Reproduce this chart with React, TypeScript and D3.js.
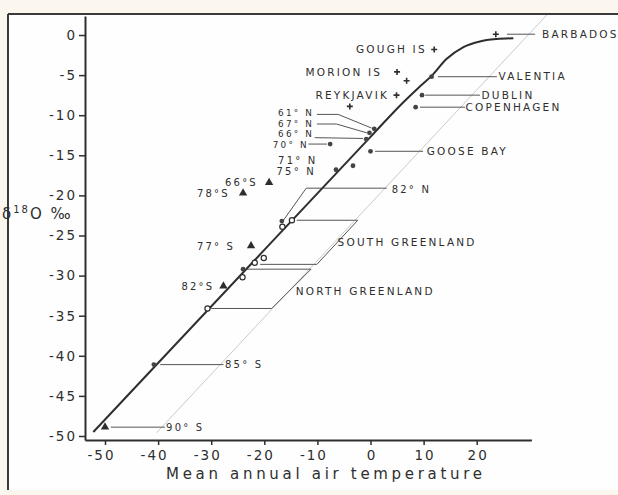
import React, { useEffect, useRef } from 'react';
import * as d3 from 'd3';

// ---------- data ----------
const xTicks = [-50, -40, -30, -20, -10, 0, 10, 20];
const yTicks = [0, -5, -10, -15, -20, -25, -30, -35, -40, -45, -50];

// main curve (mean annual air temperature °C, δ18O ‰)
const curveT = [-52.2, -20, 0, 6, 9, 11.5, 14.3, 17.5, 20.6, 23.8, 26.9];
const curveD = [-49.5, -26.8, -12.7, -8.5, -6.6, -5.1, -3.0, -1.5, -0.8, -0.5, -0.4];
// thin parallel reference line
const refT = [-40.3, 33.2];
const refD = [-49.6, 2.5];

// island / ocean stations (+)
const crossT = [23.6, 12.0, 5.0, 6.8, 4.9, -3.9];
const crossD = [0.1, -1.8, -4.6, -5.7, -7.5, -8.9];
// continental stations (filled dots)
const dotT = [11.5, 9.7, 8.5, 0.0, 0.7, -0.2, -0.8, -7.6, -3.3, -6.5, -16.7, -24.0, -40.8];
const dotD = [-5.2, -7.5, -9.0, -14.5, -11.7, -12.2, -13.0, -13.6, -16.3, -16.8, -23.2, -29.2, -41.1];
// Greenland ice sheet (open circles)
const ringT = [-14.8, -16.6, -20.1, -21.8, -24.1, -30.7];
const ringD = [-23.1, -23.9, -27.8, -28.4, -30.2, -34.1];
// Antarctica (triangles)
const triT = [-19.1, -24.0, -22.5, -27.7, -50.0];
const triD = [-18.4, -19.7, -26.3, -31.3, -48.9];

const labelTexts = [
  'BARBADOS', 'GOUGH IS', 'MORION IS', 'REYKJAVIK', 'VALENTIA', 'DUBLIN', 'COPENHAGEN',
  'GOOSE BAY', '61° N', '67° N', '66° N', '70° N', '71° N', '75° N', '82° N', '66°S', '78°S',
  '77° S', '82°S', 'SOUTH GREENLAND', 'NORTH GREENLAND', '85° S', '90° S',
];

// ---------- layout (label anchors and leader lines, in data units) ----------
const labelPos: [number, number, string][] = [
  [32.3, 0.1, 'start'], [10.6, -1.8, 'end'], [2.2, -4.6, 'end'], [3.5, -7.5, 'end'],
  [24.1, -5.2, 'start'], [20.9, -7.5, 'start'], [17.9, -9.0, 'start'], [10.6, -14.5, 'start'],
  [-17.4, -9.75, 'start'], [-17.4, -11.05, 'start'], [-17.4, -12.35, 'start'], [-18.4, -13.65, 'start'],
  [-17.4, -15.6, 'start'], [-17.7, -17.0, 'start'], [4.0, -19.2, 'start'], [-27.4, -18.4, 'start'],
  [-32.7, -19.7, 'start'], [-32.7, -26.3, 'start'], [-35.6, -31.3, 'start'], [-6.2, -25.9, 'start'],
  [-14.1, -31.9, 'start'], [-27.4, -41.1, 'start'], [-38.5, -48.9, 'start'],
];
const labelSize = [10.5, 10.5, 10.5, 10.5, 10.5, 10.5, 10.5, 10.5, 8.8, 8.8, 8.8, 8.8, 10, 10, 10, 10, 10, 10, 10, 10.5, 10.5, 10, 10];
const leaders: [number, number][][] = [
  [[25.7, 0.1], [31.0, 0.1]],
  [[12.7, -5.2], [23.8, -5.2]],
  [[10.3, -7.5], [20.6, -7.5]],
  [[9.3, -9.0], [17.8, -9.0]],
  [[0.85, -14.5], [9.9, -14.5]],
  [[-10.1, -9.9], [-6.1, -9.9], [0.2, -11.6]],
  [[-10.1, -11.1], [-6.4, -11.1], [-0.7, -12.2]],
  [[-10.5, -12.8], [-1.4, -12.9]],
  [[-11.7, -13.6], [-8.2, -13.6]],
  [[3.05, -19.1], [-12.1, -19.1], [-16.4, -23.1]],
  [[-13.9, -23.1], [-2.4, -23.1], [-10.1, -28.6], [-20.8, -28.6]],
  [[-23.3, -29.2], [-11.2, -29.2], [-18.6, -34.1], [-30.0, -34.1]],
  [[-39.6, -41.1], [-27.7, -41.1]],
  [[-48.9, -48.9], [-38.7, -48.9]],
];

const INK = '#2e2e2e';
const FONT = "'DejaVu Sans', sans-serif";

export default function App() {
  const W = 618, H = 495;
  const x = d3.scaleLinear().domain([-53.77, 30.3]).range([85, 531.4]);
  const y = d3.scaleLinear().domain([2.37, -50.5]).range([16, 440]);
  const gx = useRef<SVGGElement>(null);
  const gy = useRef<SVGGElement>(null);

  useEffect(() => {
    const fmt = (d: any) => (d < 0 ? '-' + Math.abs(d) : String(d));
    const ax = d3.axisBottom(x).tickValues(xTicks).tickFormat(fmt).tickSize(5).tickPadding(5).tickSizeOuter(0);
    const sx = d3.select(gx.current!).call(ax as any);
    sx.attr('font-size', null).attr('font-family', null);
    sx.select('.domain').attr('stroke', INK).attr('stroke-width', 2);
    sx.selectAll('.tick line').attr('stroke', INK).attr('stroke-width', 1.5);
    sx.selectAll('.tick text')
      .attr('fill', INK).attr('font-size', 13.5).attr('font-family', FONT)
      .attr('letter-spacing', 2).attr('dx', (d: any) => (d < 0 ? -4 : 1));

    const ay = d3.axisLeft(y).tickValues(yTicks).tickFormat(fmt).tickSize(6).tickPadding(2).tickSizeOuter(0);
    const sy = d3.select(gy.current!).call(ay as any);
    sy.attr('font-size', null).attr('font-family', null);
    sy.select('.domain').attr('stroke', INK).attr('stroke-width', 2);
    sy.selectAll('.tick line').attr('stroke', INK).attr('stroke-width', 1.5);
    sy.selectAll('.tick text')
      .attr('fill', INK).attr('font-size', 13.5).attr('font-family', FONT)
      .attr('letter-spacing', 2);
  }, []);

  const curvePts = curveT.map((t, i) => [t, curveD[i]] as [number, number]);
  const line = d3.line<[number, number]>().x(d => x(d[0])).y(d => y(d[1]));
  const smooth = d3.line<[number, number]>().x(d => x(d[0])).y(d => y(d[1])).curve(d3.curveMonotoneX);
  const refPts = refT.map((t, i) => [t, refD[i]] as [number, number]);
  const tri = d3.symbol().type(d3.symbolTriangle).size(30)();

  return (
    <svg width={W} height={H} style={{ position: 'absolute', left: 0, top: 0, background: '#fbf6ee' }}>
      <rect x={0} y={0} width={W} height={H} fill="#fbf6ee" />
      <rect x={8} y={14} width={W - 8} height={476} fill="#fefefe" />
      <line x1={8} y1={14} x2={W} y2={14} stroke="#3a3a3a" strokeWidth={2} />
      <line x1={8} y1={14} x2={8} y2={490} stroke="#3a3a3a" strokeWidth={2} />

      <path d={line(refPts) || ''} fill="none" stroke="#c4c4c4" strokeWidth={0.9} />
      {leaders.map((l, i) => (
        <path key={'l' + i} d={line(l) || ''} fill="none" stroke="#555" strokeWidth={1} />
      ))}
      <path d={smooth(curvePts) || ''} fill="none" stroke={INK} strokeWidth={2} />

      {crossT.map((t, i) => (
        <path key={'c' + i} transform={`translate(${x(t)},${y(crossD[i])})`} d="M-3,0H3M0,-3V3" stroke={INK} strokeWidth={1.6} />
      ))}
      {dotT.map((t, i) => (
        <circle key={'d' + i} cx={x(t)} cy={y(dotD[i])} r={2.4} fill="#444" />
      ))}
      {ringT.map((t, i) => (
        <circle key={'r' + i} cx={x(t)} cy={y(ringD[i])} r={2.6} fill="#fff" stroke={INK} strokeWidth={1.2} />
      ))}
      {triT.map((t, i) => (
        <path key={'t' + i} transform={`translate(${x(t)},${y(triD[i])})`} d={tri || ''} fill={INK} />
      ))}

      {labelTexts.map((s, i) => (
        <text key={'s' + i} x={x(labelPos[i][0])} y={y(labelPos[i][1])} dy="0.36em"
          textAnchor={labelPos[i][2]} fontFamily={FONT} fontSize={labelSize[i]} letterSpacing={2.2} fill={INK}>
          {s}
        </text>
      ))}

      <g ref={gx} transform="translate(0,440)" />
      <g ref={gy} transform="translate(85,0)" />

      <text x={166} y={479} fontFamily={FONT} fontSize={15} fill={INK} textLength={316} lengthAdjust="spacing">
        Mean annual air temperature
      </text>
      <text x={2} y={219} fontFamily={FONT} fontSize={15} fill={INK} letterSpacing={2}>
        δ<tspan dy={-6} fontSize={10}>18</tspan><tspan dy={6}>O ‰</tspan>
      </text>
    </svg>
  );
}
